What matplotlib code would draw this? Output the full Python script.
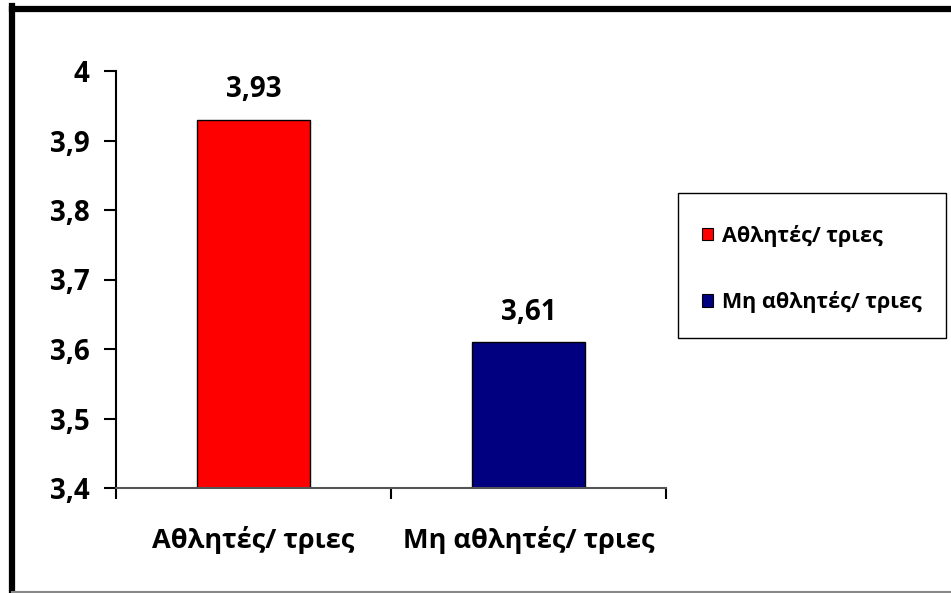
import matplotlib.pyplot as plt
from matplotlib.lines import Line2D
from matplotlib.patches import Patch, Rectangle
from matplotlib.ticker import FuncFormatter, FixedLocator

categories = ['Αθλητές/ τριες', 'Μη αθλητές/ τριες']
means = [3.93, 3.61]
bar_colors = ['#ff0000', '#000080']
y_ticks = [3.4, 3.5, 3.6, 3.7, 3.8, 3.9, 4.0]

plt.rcParams['font.family'] = ['Open Sans', 'Noto Sans', 'DejaVu Sans']
plt.rcParams['font.weight'] = 'bold'


def comma(v, pos=None):
    s = f'{v:.2f}'.rstrip('0').rstrip('.')
    return s.replace('.', ',')


fig = plt.figure(figsize=(9.51, 5.93), dpi=100)
ax = fig.add_axes([116 / 951, 1 - 488 / 593, 550 / 951, 417 / 593])

x = list(range(len(categories)))
ax.bar(x, means, width=0.41, color=bar_colors, edgecolor='black',
       linewidth=1, zorder=2)
ax.set_ylim(3.4, 4.0)
ax.set_xlim(-0.5, len(categories) - 0.5)

# value labels above bars
for xi, v in zip(x, means):
    ax.annotate(comma(v), xy=(xi, v), xytext=(0, 16), textcoords='offset points',
                ha='center', va='baseline', fontsize=20, fontweight='bold')

ax.yaxis.set_major_locator(FixedLocator(y_ticks))
ax.yaxis.set_major_formatter(FuncFormatter(comma))
ax.set_xticks(x)
ax.set_xticklabels(categories)
ax.tick_params(axis='y', length=9, width=1.5, labelsize=20, pad=10)
ax.tick_params(axis='x', length=0, labelsize=19.5, pad=27)
for lab in ax.get_yticklabels() + ax.get_xticklabels():
    lab.set_fontweight('bold')

# category separators below the axis
ax.xaxis.set_minor_locator(FixedLocator([-0.5, 0.5, 1.5]))
ax.tick_params(axis='x', which='minor', length=8, width=1.5, color='black')

for side in ('top', 'right'):
    ax.spines[side].set_visible(False)
ax.spines['left'].set_linewidth(1.5)
ax.spines['bottom'].set_linewidth(1.5)
ax.spines['bottom'].set_color('#555555')
ax.spines['bottom'].set_zorder(3)

# legend with its own box
fig.add_artist(Rectangle((678 / 951, 1 - 338 / 593), 268 / 951, 145 / 593,
                         transform=fig.transFigure, facecolor='white',
                         edgecolor='black', linewidth=1))
handles = [Patch(facecolor=c, edgecolor='black', linewidth=0.8) for c in bar_colors]
fig.legend(handles, categories, loc='center left',
           bbox_to_anchor=(702 / 951, 1 - 269 / 593),
           frameon=False, prop={'size': 15.5, 'weight': 'bold'},
           handlelength=0.5, handleheight=0.5, handletextpad=0.45,
           labelspacing=2.05, borderpad=0, borderaxespad=0)

# outer chart frame
fig.add_artist(Line2D([12 / 951, 1], [1 - 9 / 593] * 2, color='black', lw=4.5))
fig.add_artist(Line2D([12 / 951] * 2, [1 - 6 / 593, 0], color='black', lw=4.5))
fig.add_artist(Line2D([12 / 951, 1], [1 / 593] * 2, color='#888888', lw=1.5))

fig.savefig('out.png', dpi=100)
